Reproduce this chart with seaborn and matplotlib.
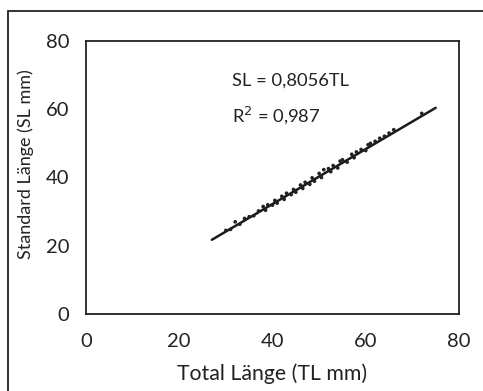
import numpy as np
import pandas as pd
import matplotlib
matplotlib.use("Agg")
import matplotlib.pyplot as plt
from matplotlib.patches import Rectangle
import seaborn as sns

# Plain white style, ticks pointing inwards like the original figure
sns.set_style("white")
plt.rcParams['font.family'] = ['Lato', 'DejaVu Sans']

total_length = [30, 31, 32, 33, 34, 35, 36, 37, 38, 38.5, 39, 40, 40.5, 41, 42,
                42.5, 43, 44, 44.5, 45, 46, 46.5, 47, 48, 48.5, 49, 50, 50.5, 51,
                52, 52.5, 53, 54, 54.5, 55, 56, 57, 57.5, 58, 59, 60, 60.5, 61,
                62, 63, 64, 65, 66, 72]
standard_length = [24.5, 24.8, 27.0, 26.3, 28.0, 28.5, 28.8, 30.2, 31.5, 30.4,
                   32.0, 31.9, 33.3, 32.5, 34.5, 33.6, 35.4, 35.0, 36.5, 35.7,
                   37.8, 36.8, 38.6, 38.0, 39.9, 38.9, 41.2, 40.0, 42.3, 42.6,
                   41.7, 43.5, 42.8, 44.8, 45.2, 44.5, 46.8, 45.8, 47.5, 48.2,
                   47.9, 49.6, 50.0, 50.6, 51.5, 52.1, 53.0, 54.0, 58.8]

# Regression through origin: SL = 0.8056 * TL
slope = 0.8056
r_squared = 0.987
trend_x = [27, 75]

axis_ticks = [0, 20, 40, 60, 80]

fish = pd.DataFrame({'TL': total_length, 'SL': standard_length})
trend = pd.DataFrame({'TL': trend_x, 'SL': [slope * x for x in trend_x]})

ink = '#222222'

fig = plt.figure(figsize=(4.83, 3.91), dpi=100)
ax = fig.add_axes([86 / 483, 1 - 314 / 391, (459 - 86) / 483, (314 - 41) / 391])

sns.scatterplot(data=fish, x='TL', y='SL', ax=ax, color=ink, s=7,
                marker='o', edgecolor='none', zorder=3)
sns.lineplot(data=trend, x='TL', y='SL', ax=ax, color='#1a1a1a', linewidth=1.8,
             zorder=2)

ax.set_xlim(0, 80)
ax.set_ylim(0, 80)
ax.set_xticks(axis_ticks)
ax.set_yticks(axis_ticks)
ax.tick_params(direction='in', length=2, width=0.6, labelsize=14.5,
               colors=ink)
ax.tick_params(axis='x', pad=14)
ax.tick_params(axis='y', pad=12)

for side in ax.spines.values():
    side.set_color(ink)
    side.set_linewidth(1.3)

ax.set_xlabel('Total Länge (TL mm)', fontsize=15.3, color=ink, va='center')
ax.set_ylabel('Standard Länge (SL mm)', fontsize=13, color=ink, va='center')
ax.xaxis.set_label_coords(0.5, (314 - 374) / 273)
ax.yaxis.set_label_coords((26 - 86) / 373, (314 - 164) / 273)

# Equation and fit quality
ax.text(31.3, 68.3, f'SL = {slope:.4f}TL'.replace('.', ','), fontsize=13.2,
        color=ink, va='center', ha='left')
ax.text(31.3, 58.3, f'R$^2$ = {r_squared:.3f}'.replace('.', ','), fontsize=13.2,
        color=ink, va='center', ha='left')

# Outer frame (only the left and top edges show in the original crop)
fig.patches.append(Rectangle((7.5 / 483, -0.1), 1.2, 1 - 10.5 / 391 + 0.1,
                             transform=fig.transFigure, fill=False,
                             edgecolor=ink, linewidth=1.3))

fig.savefig('out.png', dpi=100)
